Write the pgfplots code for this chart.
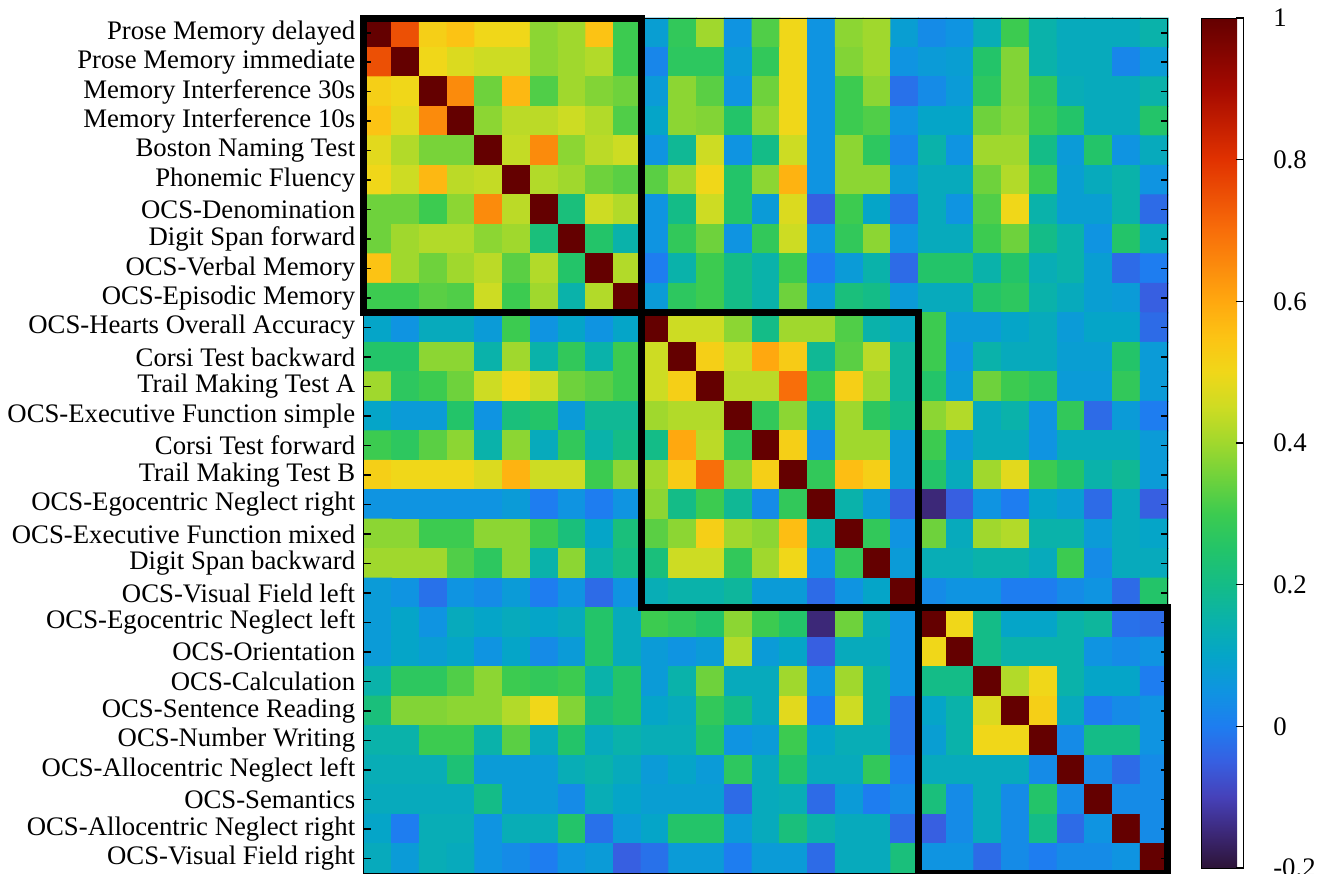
\documentclass[border=0pt]{standalone}
\usepackage{fontspec}
\setmainfont{Liberation Serif}
\usepackage{pgfplots}
\pgfplotsset{compat=1.18}
\pgfplotsset{colormap={corr}{
rgb255(0pt)=(45,20,55);
rgb255(5pt)=(60,40,120);
rgb255(10pt)=(70,65,185);
rgb255(15pt)=(55,95,225);
rgb255(20pt)=(30,125,240);
rgb255(25pt)=(15,148,225);
rgb255(30pt)=(5,165,200);
rgb255(35pt)=(10,178,170);
rgb255(40pt)=(20,188,135);
rgb255(45pt)=(35,196,105);
rgb255(50pt)=(60,203,80);
rgb255(55pt)=(110,210,60);
rgb255(60pt)=(160,216,45);
rgb255(65pt)=(205,220,35);
rgb255(70pt)=(240,215,25);
rgb255(75pt)=(252,195,20);
rgb255(80pt)=(255,168,15);
rgb255(90pt)=(248,110,10);
rgb255(100pt)=(225,50,0);
rgb255(110pt)=(165,10,0);
rgb255(120pt)=(100,0,0)}}
\begin{document}
\begin{tikzpicture}[font=\fontsize{10.7pt}{12pt}\selectfont]
\begin{axis}[
  at={(0,0)}, anchor=south west,
  scale only axis, width=321.6pt, height=342pt,
  xmin=0.5, xmax=29.5, ymin=0.5, ymax=29.5, y dir=reverse,
  enlargelimits=false, axis on top, clip=false,
  xtick=\empty,
  ytick={1,...,29},
  yticklabels={Prose Memory delayed, Prose Memory immediate, Memory Interference 30s, Memory Interference 10s, Boston Naming Test, Phonemic Fluency, OCS-Denomination, Digit Span forward, OCS-Verbal Memory, OCS-Episodic Memory, OCS-Hearts Overall Accuracy, Corsi Test backward, Trail Making Test A, OCS-Executive Function simple, Corsi Test forward, Trail Making Test B, OCS-Egocentric Neglect right, OCS-Executive Function mixed, Digit Span backward, OCS-Visual Field left, OCS-Egocentric Neglect left, OCS-Orientation, OCS-Calculation, OCS-Sentence Reading, OCS-Number Writing, OCS-Allocentric Neglect left, OCS-Semantics, OCS-Allocentric Neglect right, OCS-Visual Field right},
  ytick pos=both, yticklabel pos=left,
  tick align=inside, major tick length=2.8pt,
  tick style={black, semithick},
  axis line style={black, thin},
  colormap name=corr,
  point meta min=-0.2, point meta max=1,
  colorbar,
  colorbar shift/.style={xshift=12pt},
  colorbar style={
    width=16.8pt, height=340pt,
    y dir=normal,
    ytick={-0.2,0,0.2,0.4,0.6,0.8,1},
    yticklabels={-0.2,0,0.2,0.4,0.6,0.8,1},
    ytick pos=right, yticklabel pos=right,
    tick align=inside, major tick length=3pt,
    tick style={black, semithick},
    yticklabel style={anchor=west, xshift=8.4pt},
    axis line style={black, thin},
  },
]
\addplot[matrix plot*, mesh/cols=29, point meta=explicit] coordinates {
(1,1)[1] (2,1)[0.75] (3,1)[0.52] (4,1)[0.55] (5,1)[0.50] (6,1)[0.50] (7,1)[0.38] (8,1)[0.40] (9,1)[0.55] (10,1)[0.30] (11,1)[0.08] (12,1)[0.28] (13,1)[0.40] (14,1)[0.05] (15,1)[0.32] (16,1)[0.50] (17,1)[0.05] (18,1)[0.38] (19,1)[0.40] (20,1)[0.08] (21,1)[0.03] (22,1)[0.05] (23,1)[0.13] (24,1)[0.30] (25,1)[0.15] (26,1)[0.12] (27,1)[0.12] (28,1)[0.12] (29,1)[0.15]
(1,2)[0.75] (2,2)[1] (3,2)[0.50] (4,2)[0.47] (5,2)[0.45] (6,2)[0.45] (7,2)[0.38] (8,2)[0.40] (9,2)[0.42] (10,2)[0.30] (11,2)[0.02] (12,2)[0.27] (13,2)[0.27] (14,2)[0.07] (15,2)[0.28] (16,2)[0.50] (17,2)[0.05] (18,2)[0.37] (19,2)[0.40] (20,2)[0.05] (21,2)[0.07] (22,2)[0.08] (23,2)[0.25] (24,2)[0.37] (25,2)[0.15] (26,2)[0.12] (27,2)[0.12] (28,2)[0.02] (29,2)[0.07]
(1,3)[0.52] (2,3)[0.50] (3,3)[1] (4,3)[0.65] (5,3)[0.35] (6,3)[0.57] (7,3)[0.32] (8,3)[0.40] (9,3)[0.37] (10,3)[0.35] (11,3)[0.07] (12,3)[0.38] (13,3)[0.33] (14,3)[0.05] (15,3)[0.35] (16,3)[0.50] (17,3)[0.05] (18,3)[0.30] (19,3)[0.38] (20,3)[-0.02] (21,3)[0.03] (22,3)[0.07] (23,3)[0.27] (24,3)[0.37] (25,3)[0.28] (26,3)[0.13] (27,3)[0.12] (28,3)[0.12] (29,3)[0.15]
(1,4)[0.55] (2,4)[0.48] (3,4)[0.65] (4,4)[1] (5,4)[0.38] (6,4)[0.43] (7,4)[0.43] (8,4)[0.45] (9,4)[0.42] (10,4)[0.32] (11,4)[0.10] (12,4)[0.38] (13,4)[0.37] (14,4)[0.25] (15,4)[0.38] (16,4)[0.50] (17,4)[0.05] (18,4)[0.30] (19,4)[0.32] (20,4)[0.05] (21,4)[0.10] (22,4)[0.10] (23,4)[0.35] (24,4)[0.38] (25,4)[0.30] (26,4)[0.25] (27,4)[0.12] (28,4)[0.12] (29,4)[0.25]
(1,5)[0.48] (2,5)[0.42] (3,5)[0.36] (4,5)[0.36] (5,5)[1] (6,5)[0.44] (7,5)[0.65] (8,5)[0.38] (9,5)[0.43] (10,5)[0.45] (11,5)[0.05] (12,5)[0.18] (13,5)[0.45] (14,5)[0.05] (15,5)[0.20] (16,5)[0.45] (17,5)[0.05] (18,5)[0.38] (19,5)[0.27] (20,5)[0.02] (21,5)[0.15] (22,5)[0.05] (23,5)[0.40] (24,5)[0.40] (25,5)[0.20] (26,5)[0.07] (27,5)[0.25] (28,5)[0.05] (29,5)[0.12]
(1,6)[0.50] (2,6)[0.45] (3,6)[0.57] (4,6)[0.43] (5,6)[0.44] (6,6)[1] (7,6)[0.42] (8,6)[0.40] (9,6)[0.35] (10,6)[0.33] (11,6)[0.33] (12,6)[0.40] (13,6)[0.50] (14,6)[0.25] (15,6)[0.38] (16,6)[0.58] (17,6)[0.05] (18,6)[0.38] (19,6)[0.38] (20,6)[0.07] (21,6)[0.12] (22,6)[0.12] (23,6)[0.35] (24,6)[0.42] (25,6)[0.30] (26,6)[0.08] (27,6)[0.12] (28,6)[0.15] (29,6)[0.05]
(1,7)[0.35] (2,7)[0.35] (3,7)[0.30] (4,7)[0.38] (5,7)[0.65] (6,7)[0.43] (7,7)[1] (8,7)[0.22] (9,7)[0.45] (10,7)[0.42] (11,7)[0.05] (12,7)[0.20] (13,7)[0.45] (14,7)[0.25] (15,7)[0.07] (16,7)[0.47] (17,7)[-0.05] (18,7)[0.30] (19,7)[0.10] (20,7)[-0.02] (21,7)[0.12] (22,7)[0.05] (23,7)[0.32] (24,7)[0.50] (25,7)[0.15] (26,7)[0.08] (27,7)[0.08] (28,7)[0.15] (29,7)[-0.03]
(1,8)[0.35] (2,8)[0.40] (3,8)[0.42] (4,8)[0.42] (5,8)[0.38] (6,8)[0.40] (7,8)[0.22] (8,8)[1] (9,8)[0.25] (10,8)[0.15] (11,8)[0.05] (12,8)[0.28] (13,8)[0.35] (14,8)[0.05] (15,8)[0.28] (16,8)[0.45] (17,8)[0.05] (18,8)[0.28] (19,8)[0.38] (20,8)[0.05] (21,8)[0.12] (22,8)[0.12] (23,8)[0.30] (24,8)[0.35] (25,8)[0.20] (26,8)[0.15] (27,8)[0.05] (28,8)[0.25] (29,8)[0.12]
(1,9)[0.55] (2,9)[0.40] (3,9)[0.35] (4,9)[0.40] (5,9)[0.43] (6,9)[0.33] (7,9)[0.42] (8,9)[0.25] (9,9)[1] (10,9)[0.42] (11,9)[0.00] (12,9)[0.15] (13,9)[0.30] (14,9)[0.20] (15,9)[0.15] (16,9)[0.30] (17,9)[0.00] (18,9)[0.07] (19,9)[0.15] (20,9)[-0.03] (21,9)[0.25] (22,9)[0.25] (23,9)[0.15] (24,9)[0.25] (25,9)[0.13] (26,9)[0.15] (27,9)[0.08] (28,9)[-0.03] (29,9)[0.00]
(1,10)[0.30] (2,10)[0.30] (3,10)[0.33] (4,10)[0.32] (5,10)[0.45] (6,10)[0.30] (7,10)[0.40] (8,10)[0.15] (9,10)[0.42] (10,10)[1] (11,10)[0.07] (12,10)[0.27] (13,10)[0.30] (14,10)[0.20] (15,10)[0.15] (16,10)[0.35] (17,10)[0.07] (18,10)[0.22] (19,10)[0.20] (20,10)[0.07] (21,10)[0.12] (22,10)[0.12] (23,10)[0.25] (24,10)[0.27] (25,10)[0.15] (26,10)[0.12] (27,10)[0.08] (28,10)[0.07] (29,10)[-0.05]
(1,11)[0.10] (2,11)[0.05] (3,11)[0.12] (4,11)[0.12] (5,11)[0.07] (6,11)[0.30] (7,11)[0.05] (8,11)[0.10] (9,11)[0.05] (10,11)[0.10] (11,11)[1] (12,11)[0.45] (13,11)[0.45] (14,11)[0.38] (15,11)[0.20] (16,11)[0.40] (17,11)[0.40] (18,11)[0.32] (19,11)[0.15] (20,11)[0.12] (21,11)[0.30] (22,11)[0.07] (23,11)[0.07] (24,11)[0.10] (25,11)[0.12] (26,11)[0.07] (27,11)[0.10] (28,11)[0.10] (29,11)[-0.03]
(1,12)[0.25] (2,12)[0.25] (3,12)[0.38] (4,12)[0.38] (5,12)[0.15] (6,12)[0.40] (7,12)[0.15] (8,12)[0.28] (9,12)[0.15] (10,12)[0.30] (11,12)[0.45] (12,12)[1] (13,12)[0.52] (14,12)[0.45] (15,12)[0.60] (16,12)[0.53] (17,12)[0.18] (18,12)[0.33] (19,12)[0.43] (20,12)[0.17] (21,12)[0.30] (22,12)[0.05] (23,12)[0.15] (24,12)[0.12] (25,12)[0.12] (26,12)[0.08] (27,12)[0.08] (28,12)[0.25] (29,12)[0.07]
(1,13)[0.40] (2,13)[0.27] (3,13)[0.30] (4,13)[0.35] (5,13)[0.45] (6,13)[0.50] (7,13)[0.45] (8,13)[0.35] (9,13)[0.33] (10,13)[0.30] (11,13)[0.45] (12,13)[0.52] (13,13)[1] (14,13)[0.43] (15,13)[0.43] (16,13)[0.70] (17,13)[0.30] (18,13)[0.52] (19,13)[0.40] (20,13)[0.17] (21,13)[0.25] (22,13)[0.07] (23,13)[0.35] (24,13)[0.30] (25,13)[0.27] (26,13)[0.07] (27,13)[0.07] (28,13)[0.28] (29,13)[0.07]
(1,14)[0.10] (2,14)[0.07] (3,14)[0.07] (4,14)[0.25] (5,14)[0.05] (6,14)[0.22] (7,14)[0.25] (8,14)[0.07] (9,14)[0.18] (10,14)[0.18] (11,14)[0.40] (12,14)[0.42] (13,14)[0.42] (14,14)[1] (15,14)[0.28] (16,14)[0.38] (17,14)[0.15] (18,14)[0.40] (19,14)[0.27] (20,14)[0.20] (21,14)[0.38] (22,14)[0.42] (23,14)[0.12] (24,14)[0.15] (25,14)[0.05] (26,14)[0.28] (27,14)[-0.03] (28,14)[0.07] (29,14)[0.00]
(1,15)[0.30] (2,15)[0.27] (3,15)[0.33] (4,15)[0.38] (5,15)[0.15] (6,15)[0.38] (7,15)[0.12] (8,15)[0.28] (9,15)[0.15] (10,15)[0.20] (11,15)[0.20] (12,15)[0.60] (13,15)[0.43] (14,15)[0.28] (15,15)[1] (16,15)[0.52] (17,15)[0.03] (18,15)[0.40] (19,15)[0.40] (20,15)[0.07] (21,15)[0.30] (22,15)[0.07] (23,15)[0.12] (24,15)[0.12] (25,15)[0.05] (26,15)[0.12] (27,15)[0.12] (28,15)[0.12] (29,15)[0.07]
(1,16)[0.52] (2,16)[0.50] (3,16)[0.50] (4,16)[0.50] (5,16)[0.47] (6,16)[0.58] (7,16)[0.45] (8,16)[0.45] (9,16)[0.30] (10,16)[0.38] (11,16)[0.40] (12,16)[0.53] (13,16)[0.70] (14,16)[0.38] (15,16)[0.52] (16,16)[1] (17,16)[0.28] (18,16)[0.56] (19,16)[0.52] (20,16)[0.07] (21,16)[0.25] (22,16)[0.12] (23,16)[0.40] (24,16)[0.48] (25,16)[0.30] (26,16)[0.25] (27,16)[0.15] (28,16)[0.18] (29,16)[0.07]
(1,17)[0.05] (2,17)[0.05] (3,17)[0.05] (4,17)[0.05] (5,17)[0.05] (6,17)[0.07] (7,17)[0.00] (8,17)[0.05] (9,17)[0.00] (10,17)[0.05] (11,17)[0.38] (12,17)[0.20] (13,17)[0.30] (14,17)[0.18] (15,17)[0.03] (16,17)[0.28] (17,17)[1] (18,17)[0.15] (19,17)[0.07] (20,17)[-0.05] (21,17)[-0.15] (22,17)[-0.05] (23,17)[0.05] (24,17)[0.00] (25,17)[0.10] (26,17)[0.08] (27,17)[-0.03] (28,17)[0.12] (29,17)[-0.05]
(1,18)[0.38] (2,18)[0.38] (3,18)[0.30] (4,18)[0.30] (5,18)[0.38] (6,18)[0.38] (7,18)[0.30] (8,18)[0.22] (9,18)[0.10] (10,18)[0.22] (11,18)[0.33] (12,18)[0.38] (13,18)[0.52] (14,18)[0.40] (15,18)[0.38] (16,18)[0.56] (17,18)[0.15] (18,18)[1] (19,18)[0.28] (20,18)[0.05] (21,18)[0.35] (22,18)[0.12] (23,18)[0.40] (24,18)[0.42] (25,18)[0.15] (26,18)[0.15] (27,18)[0.07] (28,18)[0.12] (29,18)[0.10]
(1,19)[0.40] (2,19)[0.40] (3,19)[0.40] (4,19)[0.32] (5,19)[0.27] (6,19)[0.38] (7,19)[0.15] (8,19)[0.38] (9,19)[0.15] (10,19)[0.20] (11,19)[0.22] (12,19)[0.45] (13,19)[0.45] (14,19)[0.28] (15,19)[0.40] (16,19)[0.50] (17,19)[0.05] (18,19)[0.28] (19,19)[1] (20,19)[0.07] (21,19)[0.13] (22,19)[0.13] (23,19)[0.15] (24,19)[0.15] (25,19)[0.12] (26,19)[0.30] (27,19)[0.03] (28,19)[0.12] (29,19)[0.12]
(1,20)[0.07] (2,20)[0.05] (3,20)[-0.02] (4,20)[0.05] (5,20)[0.03] (6,20)[0.07] (7,20)[0.00] (8,20)[0.05] (9,20)[-0.03] (10,20)[0.05] (11,20)[0.13] (12,20)[0.15] (13,20)[0.15] (14,20)[0.17] (15,20)[0.07] (16,20)[0.07] (17,20)[-0.03] (18,20)[0.05] (19,20)[0.10] (20,20)[1] (21,20)[0.03] (22,20)[0.05] (23,20)[0.05] (24,20)[0.00] (25,20)[0.00] (26,20)[0.03] (27,20)[0.05] (28,20)[-0.03] (29,20)[0.25]
(1,21)[0.07] (2,21)[0.10] (3,21)[0.05] (4,21)[0.12] (5,21)[0.10] (6,21)[0.12] (7,21)[0.10] (8,21)[0.12] (9,21)[0.25] (10,21)[0.12] (11,21)[0.30] (12,21)[0.28] (13,21)[0.25] (14,21)[0.38] (15,21)[0.30] (16,21)[0.25] (17,21)[-0.15] (18,21)[0.35] (19,21)[0.13] (20,21)[0.05] (21,21)[1] (22,21)[0.50] (23,21)[0.20] (24,21)[0.10] (25,21)[0.10] (26,21)[0.15] (27,21)[0.17] (28,21)[-0.02] (29,21)[-0.03]
(1,22)[0.07] (2,22)[0.10] (3,22)[0.08] (4,22)[0.10] (5,22)[0.05] (6,22)[0.10] (7,22)[0.03] (8,22)[0.07] (9,22)[0.25] (10,22)[0.12] (11,22)[0.07] (12,22)[0.05] (13,22)[0.07] (14,22)[0.42] (15,22)[0.07] (16,22)[0.10] (17,22)[-0.05] (18,22)[0.12] (19,22)[0.12] (20,22)[0.05] (21,22)[0.50] (22,22)[1] (23,22)[0.20] (24,22)[0.15] (25,22)[0.15] (26,22)[0.15] (27,22)[0.05] (28,22)[0.03] (29,22)[0.05]
(1,23)[0.15] (2,23)[0.27] (3,23)[0.27] (4,23)[0.32] (5,23)[0.38] (6,23)[0.30] (7,23)[0.28] (8,23)[0.30] (9,23)[0.15] (10,23)[0.25] (11,23)[0.07] (12,23)[0.15] (13,23)[0.35] (14,23)[0.12] (15,23)[0.12] (16,23)[0.40] (17,23)[0.05] (18,23)[0.40] (19,23)[0.15] (20,23)[0.05] (21,23)[0.20] (22,23)[0.20] (23,23)[1] (24,23)[0.42] (25,23)[0.50] (26,23)[0.15] (27,23)[0.10] (28,23)[0.10] (29,23)[0.00]
(1,24)[0.22] (2,24)[0.37] (3,24)[0.37] (4,24)[0.38] (5,24)[0.38] (6,24)[0.42] (7,24)[0.50] (8,24)[0.37] (9,24)[0.22] (10,24)[0.25] (11,24)[0.10] (12,24)[0.12] (13,24)[0.28] (14,24)[0.20] (15,24)[0.12] (16,24)[0.48] (17,24)[0.00] (18,24)[0.45] (19,24)[0.15] (20,24)[-0.02] (21,24)[0.10] (22,24)[0.15] (23,24)[0.47] (24,24)[1] (25,24)[0.52] (26,24)[0.12] (27,24)[0.00] (28,24)[0.03] (29,24)[0.05]
(1,25)[0.15] (2,25)[0.15] (3,25)[0.30] (4,25)[0.30] (5,25)[0.15] (6,25)[0.33] (7,25)[0.12] (8,25)[0.25] (9,25)[0.12] (10,25)[0.15] (11,25)[0.13] (12,25)[0.13] (13,25)[0.25] (14,25)[0.05] (15,25)[0.07] (16,25)[0.30] (17,25)[0.10] (18,25)[0.13] (19,25)[0.13] (20,25)[-0.02] (21,25)[0.08] (22,25)[0.15] (23,25)[0.50] (24,25)[0.50] (25,25)[1] (26,25)[0.03] (27,25)[0.20] (28,25)[0.20] (29,25)[0.05]
(1,26)[0.13] (2,26)[0.13] (3,26)[0.13] (4,26)[0.23] (5,26)[0.07] (6,26)[0.07] (7,26)[0.07] (8,26)[0.13] (9,26)[0.15] (10,26)[0.12] (11,26)[0.07] (12,26)[0.10] (13,26)[0.07] (14,26)[0.27] (15,26)[0.12] (16,26)[0.25] (17,26)[0.12] (18,26)[0.12] (19,26)[0.28] (20,26)[0.00] (21,26)[0.12] (22,26)[0.12] (23,26)[0.12] (24,26)[0.12] (25,26)[0.03] (26,26)[1] (27,26)[0.03] (28,26)[-0.03] (29,26)[0.03]
(1,27)[0.12] (2,27)[0.12] (3,27)[0.12] (4,27)[0.12] (5,27)[0.20] (6,27)[0.07] (7,27)[0.07] (8,27)[0.03] (9,27)[0.13] (10,27)[0.10] (11,27)[0.08] (12,27)[0.08] (13,27)[0.08] (14,27)[-0.03] (15,27)[0.12] (16,27)[0.13] (17,27)[-0.03] (18,27)[0.07] (19,27)[0.00] (20,27)[0.03] (21,27)[0.22] (22,27)[0.03] (23,27)[0.12] (24,27)[0.03] (25,27)[0.25] (26,27)[0.03] (27,27)[1] (28,27)[0.03] (29,27)[0.03]
(1,28)[0.10] (2,28)[0.00] (3,28)[0.13] (4,28)[0.13] (5,28)[0.05] (6,28)[0.13] (7,28)[0.13] (8,28)[0.25] (9,28)[-0.02] (10,28)[0.07] (11,28)[0.10] (12,28)[0.25] (13,28)[0.25] (14,28)[0.07] (15,28)[0.12] (16,28)[0.22] (17,28)[0.15] (18,28)[0.12] (19,28)[0.12] (20,28)[-0.03] (21,28)[-0.05] (22,28)[0.03] (23,28)[0.12] (24,28)[0.03] (25,28)[0.20] (26,28)[-0.03] (27,28)[0.05] (28,28)[1] (29,28)[0.03]
(1,29)[0.12] (2,29)[0.07] (3,29)[0.13] (4,29)[0.12] (5,29)[0.05] (6,29)[0.03] (7,29)[0.00] (8,29)[0.05] (9,29)[0.07] (10,29)[-0.05] (11,29)[-0.02] (12,29)[0.07] (13,29)[0.07] (14,29)[0.00] (15,29)[0.07] (16,29)[0.07] (17,29)[-0.03] (18,29)[0.12] (19,29)[0.12] (20,29)[0.22] (21,29)[0.05] (22,29)[0.05] (23,29)[-0.03] (24,29)[0.03] (25,29)[0.00] (26,29)[0.03] (27,29)[0.03] (28,29)[0.05] (29,29)[1]
};
\draw[black, line width=2.8pt] (axis cs:0.5,0.5) rectangle (axis cs:10.5,10.5);
\draw[black, line width=2.8pt] (axis cs:10.5,10.5) rectangle (axis cs:20.5,20.5);
\draw[black, line width=2.8pt] (axis cs:20.5,20.5) rectangle (axis cs:29.5,29.5);
\end{axis}
\pgfresetboundingbox
\useasboundingbox (-145.6pt,0pt) rectangle (384.8pt,349.2pt);
\end{tikzpicture}
\end{document}
